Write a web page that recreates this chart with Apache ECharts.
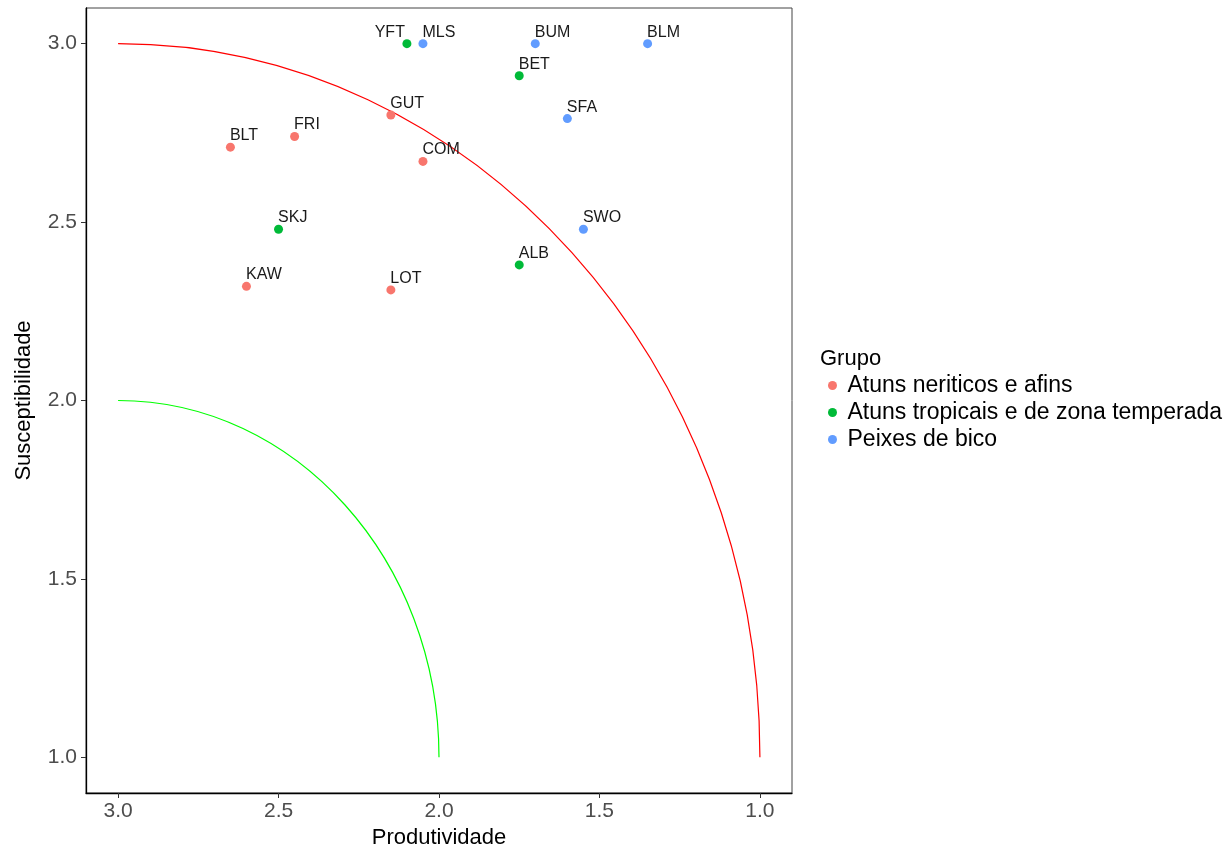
<!DOCTYPE html>
<html lang="pt">
<head>
<meta charset="UTF-8">
<title>Produtividade x Susceptibilidade</title>
<script src="https://cdn.jsdelivr.net/npm/echarts@6/dist/echarts.min.js"></script>
</head>
<body style="margin:0">
<div id="main" style="width:1232px;height:850px;"></div>
<script>
// dados
const codes = ['YFT', 'MLS', 'BUM', 'BLM', 'BET', 'SFA', 'GUT', 'FRI', 'BLT', 'COM', 'SKJ', 'SWO', 'ALB', 'KAW', 'LOT'];
const produtividade = [2.10, 2.05, 1.70, 1.35, 1.75, 1.60, 2.15, 2.45, 2.65, 2.05, 2.50, 1.55, 1.75, 2.60, 2.15];
const susceptibilidade = [3.00, 3.00, 3.00, 3.00, 2.91, 2.79, 2.80, 2.74, 2.71, 2.67, 2.48, 2.48, 2.38, 2.32, 2.31];
const grupoIdx = [1, 2, 2, 2, 1, 2, 0, 0, 0, 0, 1, 2, 1, 0, 0];
const grupos = ['Atuns neriticos e afins', 'Atuns tropicais e de zona temperada', 'Peixes de bico'];
const cores = ['#F8766D', '#00BA38', '#619CFF'];
const tickValues = [1.0, 1.5, 2.0, 2.5, 3.0];
// arcos: centro (3, 1), raios 2 e 1
const arcCenter = [3, 1];
const arcRadius = [2, 1];
const arcColors = ['#FF0000', '#00FF00'];

const FONT = 'Liberation Sans, Arial, sans-serif';
const chart = echarts.init(document.getElementById('main'));

const K = 0.5523; // bezier de um quarto de elipse
const arcSeries = {
    type: 'custom',
    silent: true,
    data: arcRadius.map((r, i) => [arcCenter[0], arcCenter[1], r, i]),
    encode: { x: 0, y: 1 },
    renderItem: function (params, api) {
        const cx = api.value(0), cy = api.value(1), r = api.value(2);
        const c = api.coord([cx, cy]);
        const top = api.coord([cx, cy + r]);
        const side = api.coord([cx - r, cy]);
        const rx = side[0] - c[0], ry = c[1] - top[1];
        return {
            type: 'bezierCurve',
            shape: {
                x1: c[0], y1: top[1],
                x2: side[0], y2: c[1],
                cpx1: c[0] + K * rx, cpy1: top[1],
                cpx2: side[0], cpy2: c[1] - K * ry
            },
            style: { stroke: arcColors[api.value(3)], fill: null, lineWidth: 1.2 }
        };
    },
    z: 1
};

const pointSeries = grupos.map((g, gi) => ({
    name: g,
    type: 'scatter',
    symbol: 'circle',
    symbolSize: 9,
    itemStyle: { color: cores[gi], opacity: 1 },
    label: {
        show: true,
        formatter: '{b}',
        position: [4, -7],
        align: 'left',
        verticalAlign: 'middle',
        fontFamily: FONT,
        fontSize: 16,
        color: '#1a1a1a'
    },
    emphasis: { disabled: true },
    z: 3,
    data: codes.map((c, i) => ({ c, i })).filter(d => grupoIdx[d.i] === gi).map(d => {
        const item = { name: d.c, value: [produtividade[d.i], susceptibilidade[d.i]] };
        if (d.c === 'YFT') item.label = { position: [2.5, -7], align: 'right' };
        return item;
    })
}));

const option = {
    animation: false,
    backgroundColor: '#fff',
    title: {
        text: 'Grupo',
        left: 820,
        top: 348,
        padding: 0,
        textStyle: { fontFamily: FONT, fontSize: 22, fontWeight: 'normal', color: '#000' }
    },
    legend: {
        data: grupos,
        orient: 'vertical',
        left: 823,
        top: 367,
        icon: 'circle',
        itemWidth: 20,
        itemHeight: 9,
        itemGap: 0,
        selectedMode: false,
        textStyle: { fontFamily: FONT, fontSize: 23, color: '#000', lineHeight: 27 }
    },
    grid: {
        left: 86, top: 8, width: 706, height: 785,
        outerBoundsMode: 'none',
        containLabel: false,
        show: true, borderColor: '#444', borderWidth: 1
    },
    xAxis: {
        type: 'value',
        inverse: true,
        min: 0.9,
        max: 3.1,
        name: 'Produtividade',
        nameLocation: 'middle',
        nameGap: 34,
        nameTextStyle: { fontFamily: FONT, fontSize: 22, color: '#000' },
        splitLine: { show: false },
        axisLine: { lineStyle: { color: '#000', width: 1.3 } },
        axisTick: { customValues: tickValues, length: 5, lineStyle: { color: '#333' } },
        axisLabel: {
            customValues: tickValues,
            formatter: v => v.toFixed(1),
            margin: 8,
            fontFamily: FONT, fontSize: 21, color: '#4D4D4D'
        }
    },
    yAxis: {
        type: 'value',
        min: 0.9,
        max: 3.1,
        name: 'Susceptibilidade',
        nameLocation: 'middle',
        nameGap: 51,
        nameTextStyle: { fontFamily: FONT, fontSize: 22, color: '#000' },
        splitLine: { show: false },
        axisLine: { lineStyle: { color: '#000', width: 1.3 } },
        axisTick: { customValues: tickValues, length: 5, lineStyle: { color: '#333' } },
        axisLabel: {
            customValues: tickValues,
            formatter: v => v.toFixed(1),
            margin: 9,
            fontFamily: FONT, fontSize: 21, color: '#4D4D4D'
        }
    },
    series: [arcSeries].concat(pointSeries)
};

chart.setOption(option);
</script>
</body>
</html>
